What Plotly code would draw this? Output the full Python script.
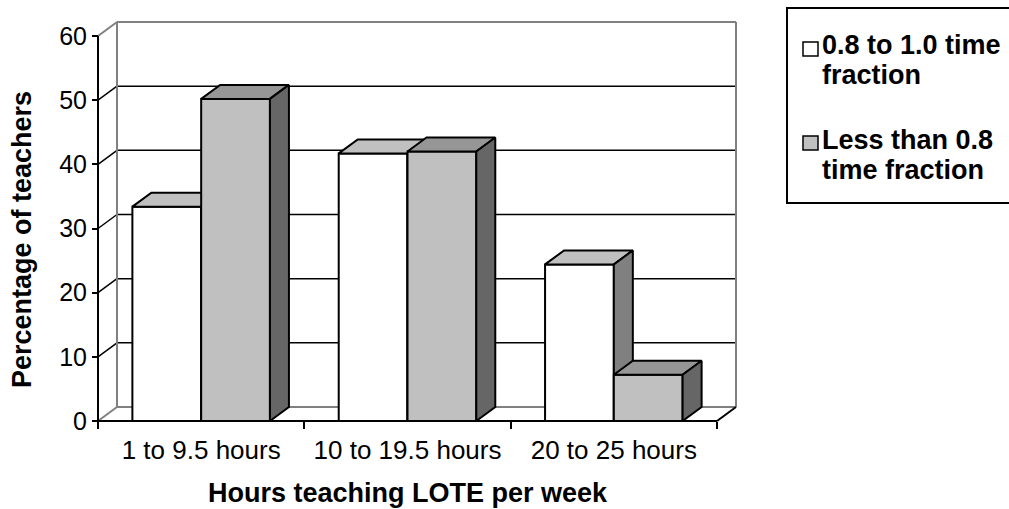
import plotly.graph_objects as go

# ---- data -------------------------------------------------------------
categories = ["1 to 9.5 hours", "10 to 19.5 hours", "20 to 25 hours"]
full_time = [33.4, 41.7, 24.4]   # 0.8 to 1.0 time fraction
part_time = [50.2, 42.0, 7.2]    # less than 0.8 time fraction
y_ticks = [0, 10, 20, 30, 40, 50, 60]
legend_lines = [
    ["0.8 to 1.0 time", "fraction"],
    ["Less than 0.8", "time fraction"],
]

# ---- geometry of the pseudo-3D box (pixels) ---------------------------
FIG_W, FIG_H = 1009, 509
FRONT_LEFT, FRONT_RIGHT = 98, 717
FRONT_BOTTOM, FRONT_TOP = 421, 36
DEPTH_X, DEPTH_Y = 19, 14
PAD = 4
Y_MAX = y_ticks[-1]

n = len(categories)
px_per_cat = (FRONT_RIGHT - FRONT_LEFT) / n
px_per_unit = (FRONT_BOTTOM - FRONT_TOP) / Y_MAX
dx = DEPTH_X / px_per_cat
dy = DEPTH_Y / px_per_unit

plot_l = FRONT_LEFT - PAD
plot_r = FRONT_RIGHT + DEPTH_X + PAD
plot_t = FRONT_TOP - DEPTH_Y - PAD
plot_b = FRONT_BOTTOM + PAD
plot_w = plot_r - plot_l
plot_h = plot_b - plot_t

x_lo, x_hi = -0.5, n - 0.5
x_range = [x_lo - PAD / px_per_cat, x_lo + (plot_r - FRONT_LEFT) / px_per_cat]
y_range = [-PAD / px_per_unit, (FRONT_BOTTOM - plot_t) / px_per_unit]
back_l, back_r = x_lo + dx, x_hi + dx

BW = 1 / 3  # bar width in category units

FONT = "Liberation Sans, Arial, sans-serif"


def paper_x(px):
    return (px - plot_l) / plot_w


def paper_y(py):
    return (plot_b - py) / plot_h


def faces(vals, left_off):
    """Top and right-side polygons of each column, in data units."""
    tx, ty, sx, sy = [], [], [], []
    for i, v in enumerate(vals):
        l = i + left_off
        r = l + BW
        tx += [l, r, r + dx, l + dx, l, None]
        ty += [v, v, v + dy, v + dy, v, None]
        sx += [r, r + dx, r + dx, r, r, None]
        sy += [0, dy, v + dy, v, 0, None]
    return tx, ty, sx, sy


def series(vals, left_off, front, top, side, xa, ya):
    tx, ty, sx, sy = faces(vals, left_off)
    edge = dict(color="black", width=2)
    return [
        go.Bar(x=list(range(n)), y=vals, width=BW, offset=left_off,
               marker=dict(color=front, line=edge),
               xaxis=xa, yaxis=ya, hoverinfo="skip"),
        go.Scatter(x=tx, y=ty, mode="lines", fill="toself", fillcolor=top,
                   line=edge, xaxis=xa, yaxis=ya, hoverinfo="skip"),
        go.Scatter(x=sx, y=sy, mode="lines", fill="toself", fillcolor=side,
                   line=edge, xaxis=xa, yaxis=ya, hoverinfo="skip"),
    ]


# first series sits left of each category centre, second right of it;
# the second series lives on an overlaid subplot so it paints on top.
traces = []
traces += series(full_time, -BW, "#FFFFFF", "#C0C0C0", "#808080", "x", "y")
traces += series(part_time, 0.0, "#C0C0C0", "#969696", "#666666", "x2", "y2")

fig = go.Figure(traces)

# ---- walls, floor and gridlines --------------------------------------
shapes = []
grey = dict(color="#808080", width=2)
black_thin = dict(color="black", width=1.5)
black = dict(color="black", width=2)


def seg(x0, y0, x1, y1, line, layer="below"):
    shapes.append(dict(type="line", xref="x", yref="y", x0=x0, y0=y0,
                       x1=x1, y1=y1, line=line, layer=layer))


for t in y_ticks[1:-1]:
    seg(back_l, t + dy, back_r, t + dy, black_thin)
    seg(x_lo, t, back_l, t + dy, black_thin)
for t in (y_ticks[0], y_ticks[-1]):
    seg(x_lo, t, back_l, t + dy, grey)
seg(back_l, dy, back_l, Y_MAX + dy, grey)
seg(back_l, Y_MAX + dy, back_r, Y_MAX + dy, grey)
seg(back_r, dy, back_r, Y_MAX + dy, grey)
seg(back_l, dy, back_r, dy, grey)
seg(x_hi, 0, back_r, dy, black)
seg(x_lo, 0, x_lo, Y_MAX, black, "above")
seg(x_lo, 0, x_hi, 0, black, "above")

# ---- legend box -------------------------------------------------------
shapes.append(dict(type="rect", xref="paper", yref="paper",
                   x0=paper_x(787), x1=paper_x(1016),
                   y0=paper_y(203), y1=paper_y(8),
                   line=dict(color="black", width=2), fillcolor="white",
                   layer="above"))
swatch_fill = ["#FFFFFF", "#C0C0C0"]
swatch_top = [42, 136]
annotations = []
for k, lines in enumerate(legend_lines):
    shapes.append(dict(type="rect", xref="paper", yref="paper",
                       x0=paper_x(803), x1=paper_x(818),
                       y0=paper_y(swatch_top[k] + 14), y1=paper_y(swatch_top[k]),
                       line=dict(color="black", width=1.5),
                       fillcolor=swatch_fill[k], layer="above"))
    for j, txt in enumerate(lines):
        annotations.append(dict(
            text=f"<b>{txt}</b>", xref="paper", yref="paper",
            x=paper_x(820), y=paper_y(45 + 95 * k + 30 * j),
            xanchor="left", yanchor="middle", showarrow=False,
            font=dict(family=FONT, size=27, color="black")))

# ---- axis titles -----------------------------------------------------
annotations.append(dict(
    text="<b>Percentage of teachers</b>", textangle=-90,
    xref="paper", yref="paper", x=paper_x(22), y=paper_y(240),
    xanchor="center", yanchor="middle", showarrow=False,
    font=dict(family=FONT, size=27, color="black")))
annotations.append(dict(
    text="<b>Hours teaching LOTE per week</b>",
    xref="paper", yref="paper",
    x=paper_x((FRONT_LEFT + FRONT_RIGHT) / 2), y=paper_y(493),
    xanchor="center", yanchor="middle", showarrow=False,
    font=dict(family=FONT, size=27, color="black")))

fig.update_layout(
    width=FIG_W, height=FIG_H,
    margin=dict(l=plot_l, r=FIG_W - plot_r, t=plot_t, b=FIG_H - plot_b,
                pad=0, autoexpand=False),
    paper_bgcolor="white", plot_bgcolor="white",
    showlegend=False,
    shapes=shapes, annotations=annotations,
    font=dict(family=FONT, color="black"),
    xaxis=dict(
        domain=[0, 1], range=x_range, anchor="free",
        position=paper_y(FRONT_BOTTOM),
        tickmode="array", tickvals=list(range(n)), ticktext=categories,
        ticks="", ticklabelstandoff=11,
        tickfont=dict(family=FONT, size=26, color="black"),
        showgrid=False, zeroline=False, showline=False,
        minor=dict(tickmode="array", tickvals=[x_lo + i for i in range(n + 1)],
                   ticks="outside", ticklen=7, tickwidth=2,
                   tickcolor="black", showgrid=False),
    ),
    yaxis=dict(
        domain=[0, 1], range=y_range, anchor="free",
        position=paper_x(FRONT_LEFT),
        tickmode="array", tickvals=y_ticks,
        ticks="outside", ticklen=6, tickwidth=2, tickcolor="black",
        tickfont=dict(family=FONT, size=25, color="black"),
        showgrid=False, zeroline=False, showline=False,
    ),
    xaxis2=dict(overlaying="x", range=x_range, visible=False, anchor="y2"),
    yaxis2=dict(overlaying="y", range=y_range, visible=False, anchor="x2"),
)

fig.write_html("out.html")
